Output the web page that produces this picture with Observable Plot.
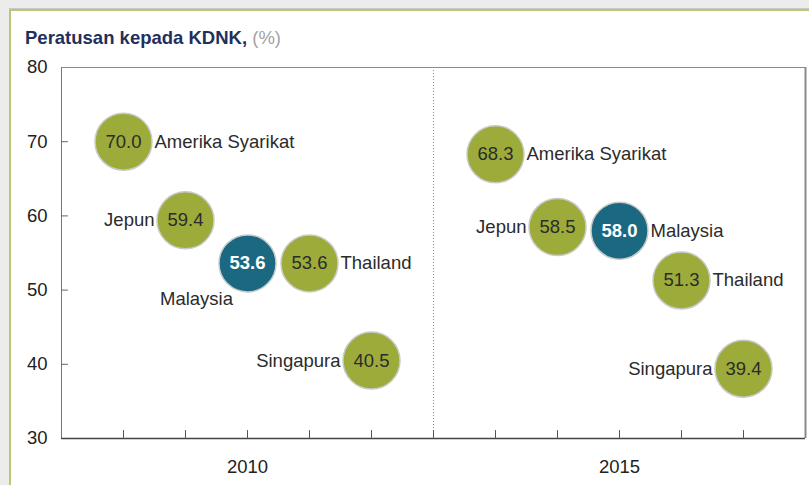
<!DOCTYPE html>
<html>
<head>
<meta charset="utf-8">
<script src="https://cdn.jsdelivr.net/npm/d3@7"></script>
<script src="https://cdn.jsdelivr.net/npm/@observablehq/plot@0.6"></script>
<style>
  html, body { margin: 0; padding: 0; }
  body { width: 809px; height: 485px; overflow: hidden; position: relative; background: #ecedeb; font-family: "Liberation Sans", Arial, sans-serif; }
  #panel { position: absolute; left: 9px; top: 9px; width: 820px; height: 500px; background: #fff; border-top: 2px solid #bcc67a; border-left: 2px solid #bcc67a; box-shadow: 0 -1px 0 #c8c8c8; }
  #title { position: absolute; left: 25px; top: 29px; font-size: 18.5px; line-height: 1; white-space: nowrap; }
  #title b { color: #1f2f5e; }
  #title span { color: #a3a3a3; }
  #chart { position: absolute; left: 0; top: 55px; }
</style>
</head>
<body>
<div id="panel"></div>
<div id="title"><b>Peratusan kepada KDNK,</b> <span>(%)</span></div>
<div id="chart"></div>
<script>
const countries = ["Amerika Syarikat", "Jepun", "Malaysia", "Thailand", "Singapura"];
const years = ["2010", "2015"];
const values2010 = [70.0, 59.4, 53.6, 53.6, 40.5];
const values2015 = [68.3, 58.5, 58.0, 51.3, 39.4];
const yTicks = [30, 40, 50, 60, 70, 80];
const labelSide2010 = ["right", "left", "below", "right", "left"];
const labelSide2015 = ["right", "left", "right", "right", "left"];

const seriesValues = [values2010, values2015];
const seriesSides = [labelSide2010, labelSide2015];
const groupSize = countries.length + 1;
const rows = [];
years.forEach((yr, j) => {
  countries.forEach((c, i) => {
    rows.push({
      country: c, year: yr, value: seriesValues[j][i],
      slot: j * groupSize + i + 1,
      side: seriesSides[j][i],
      highlight: c === "Malaysia"
    });
  });
});
const slotMax = years.length * groupSize;
const slotTicks = d3.range(1, slotMax);
const yearCenters = years.map((y, j) => j * groupSize + (countries.length + 1) / 2);

const olive = "#9dab3a";
const teal = "#1a6882";
const ink = "#2b2b2b";
const fs = 18.5;
const lineShape = { draw(context, l) { context.moveTo(0, 0); context.lineTo(0, -l); } };

const chart = Plot.plot({
  width: 809,
  height: 430,
  marginLeft: 61,
  marginRight: 4,
  marginTop: 12,
  marginBottom: 47,
  style: { background: "none", fontFamily: "'Liberation Sans', Arial, sans-serif", overflow: "visible" },
  x: { domain: [0, slotMax], axis: null, label: null },
  y: { domain: [30, 80], axis: null, label: null },
  marks: [
    Plot.ruleX([slotMax / 2], { stroke: "#8a8a8a", strokeDasharray: "1,2", strokeWidth: 1 }),
    Plot.ruleY([80], { stroke: "#8a8a8a", strokeWidth: 1 }),
    Plot.ruleX([slotMax], { stroke: "#8a8a8a", strokeWidth: 2 }),
    Plot.ruleX([0], { stroke: "#777", strokeWidth: 1 }),
    Plot.ruleY([30], { stroke: "#444", strokeWidth: 1.5 }),
    Plot.vector(yTicks.slice(1, -1), { x: 0, y: d => d, length: 6, rotate: 90, anchor: "start", shape: lineShape, stroke: "#666", strokeWidth: 1 }),
    Plot.vector(slotTicks, { x: d => d, y: 30, length: 8, rotate: 0, anchor: "start", shape: lineShape, stroke: "#555", strokeWidth: 1 }),
    Plot.axisY({ ticks: yTicks, tickSize: 0, tickPadding: 14, fontSize: fs, fill: "#222", label: null, tickFormat: d => String(d) }),
    Plot.axisX({ ticks: yearCenters, tickSize: 0, tickPadding: 21, fontSize: fs, fill: "#222", label: null, tickFormat: d => years[yearCenters.indexOf(d)] }),
    Plot.dot(rows, { x: "slot", y: "value", r: 28.5, fill: d => d.highlight ? teal : olive, stroke: "#c9c9c9", strokeWidth: 1.5 }),
    Plot.text(rows.filter(d => !d.highlight), { x: "slot", y: "value", text: d => d.value.toFixed(1), fill: ink, fontSize: fs }),
    Plot.text(rows.filter(d => d.highlight), { x: "slot", y: "value", text: d => d.value.toFixed(1), fill: "#fff", fontSize: fs, fontWeight: "bold" }),
    Plot.text(rows.filter(d => d.side === "right"), { x: "slot", y: "value", text: "country", textAnchor: "start", dx: 31, fill: ink, fontSize: fs }),
    Plot.text(rows.filter(d => d.side === "left"), { x: "slot", y: "value", text: "country", textAnchor: "end", dx: -31, fill: ink, fontSize: fs }),
    Plot.text(rows.filter(d => d.side === "below"), { x: "slot", y: "value", text: "country", textAnchor: "middle", dx: -51, dy: 36, fill: ink, fontSize: fs })
  ]
});
document.getElementById("chart").appendChild(chart);
</script>
</body>
</html>
